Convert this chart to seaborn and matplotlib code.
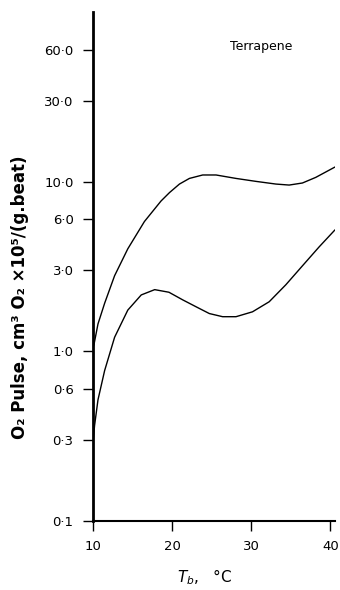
import matplotlib
matplotlib.use("Agg")
import matplotlib.pyplot as plt
import seaborn as sns
import pandas as pd

# Body temperature (°C) and oxygen pulse, upper curve
upper_temp = [10.0, 10.13, 10.63, 11.47, 12.73, 14.4, 16.5, 18.6, 19.67, 20.93,
              22.19, 23.87, 25.56, 28.08, 30.6, 33.13, 34.8, 36.48, 38.17, 40.6]
upper_pulse = [1.05, 1.10, 1.45, 1.92, 2.79, 4.02, 5.82, 7.69, 8.62, 9.68,
               10.45, 10.95, 10.95, 10.45, 10.04, 9.68, 9.55, 9.82, 10.6, 12.2]

# Body temperature (°C) and oxygen pulse, lower curve
lower_temp = [10.0, 10.2, 10.63, 11.47, 12.73, 14.4, 16.1, 17.8, 19.6, 21.35,
              23.04, 24.71, 26.39, 28.08, 30.17, 32.28, 34.39, 36.48, 38.58, 40.6]
lower_pulse = [0.29, 0.366, 0.518, 0.77, 1.21, 1.75, 2.15, 2.31, 2.23, 2.01,
               1.83, 1.67, 1.60, 1.60, 1.71, 1.96, 2.47, 3.19, 4.12, 5.2]

y_ticks = [0.1, 0.3, 0.6, 1.0, 3.0, 6.0, 10.0, 30.0, 60.0]
y_tick_labels = ["0·1", "0·3", "0·6", "1·0", "3·0", "6·0", "10·0", "30·0", "60·0"]
x_ticks = [10, 20, 30, 40]
x_tick_labels = ["10", "20", "30", "40"]
species = "Terrapene"

sns.set_style("ticks")
plt.rcParams["font.family"] = ["DejaVu Sans"]

fig = plt.figure(figsize=(3.4, 5.9), dpi=100)
ax = fig.add_axes([93 / 340, 69 / 590, 242 / 340, 509 / 590])

upper = pd.DataFrame({"temp": upper_temp, "pulse": upper_pulse})
lower = pd.DataFrame({"temp": lower_temp, "pulse": lower_pulse})
sns.lineplot(data=upper, x="temp", y="pulse", ax=ax, color="black",
             linewidth=1.0, sort=False)
sns.lineplot(data=lower, x="temp", y="pulse", ax=ax, color="black",
             linewidth=1.0, sort=False)

ax.set_yscale("log")
ax.set_ylim(0.1, 100)
ax.set_xlim(10, 40.6)
ax.set_yticks(y_ticks)
ax.set_yticklabels(y_tick_labels)
ax.minorticks_off()
ax.set_xticks(x_ticks)
ax.set_xticklabels(x_tick_labels)

for side in ("top", "right"):
    ax.spines[side].set_visible(False)
ax.spines["left"].set_linewidth(2.0)
ax.spines["bottom"].set_linewidth(1.5)
ax.spines["left"].set_color("black")
ax.spines["bottom"].set_color("black")
ax.tick_params(axis="both", direction="out", length=7, width=1.0,
               labelsize=9.5, pad=7, colors="black")

ax.set_ylabel("O₂ Pulse, cm³ O₂ ×10⁵/(g.beat)", fontsize=12,
              fontweight="bold", color="black")
ax.yaxis.set_label_coords(-0.265, 0.44)
ax.set_xlabel(r"$T_b$,   °C", fontsize=11, color="black")
ax.xaxis.label.set_va("center")
ax.xaxis.set_label_coords(0.46, -0.11)

ax.text(0.694, 0.933, species, transform=ax.transAxes, ha="center",
        va="center", fontsize=9, color="black")

fig.savefig("out.png", dpi=100)
